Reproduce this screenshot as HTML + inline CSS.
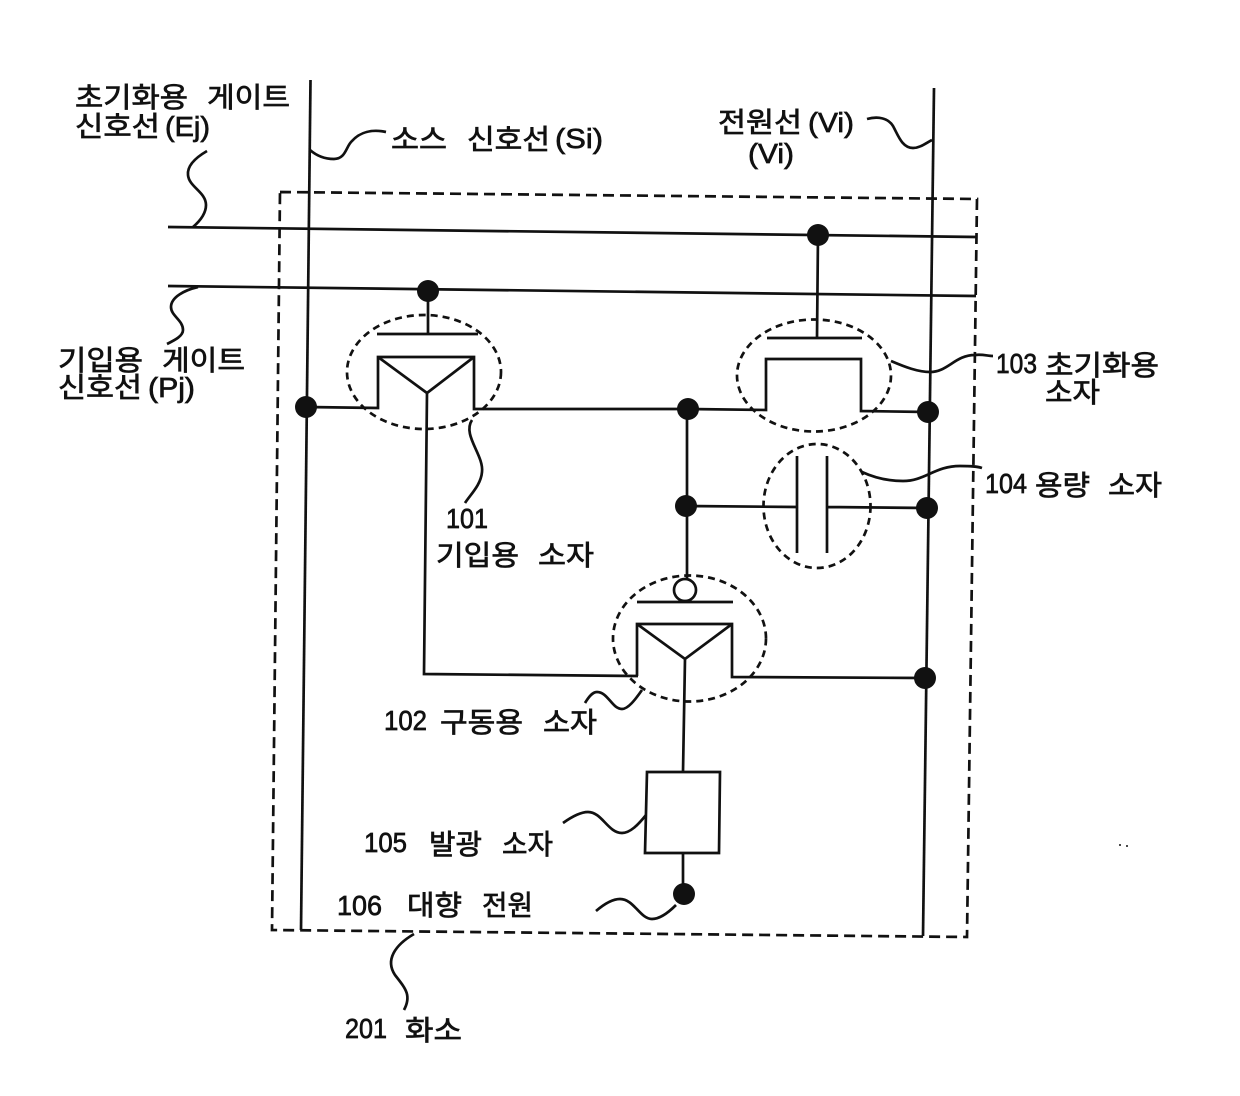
<!DOCTYPE html>
<html><head><meta charset="utf-8"><style>
html,body{margin:0;padding:0;background:#fff}
svg{display:block}
text{font-family:"Liberation Sans","Noto Sans CJK KR","NanumGothic",sans-serif;font-size:28px;fill:#111;stroke:#111;stroke-width:.7px}
</style></head><body>
<svg width="1240" height="1096" viewBox="0 0 1240 1096" xmlns="http://www.w3.org/2000/svg">
<g fill="none" stroke="#111" stroke-width="2.7">
<!-- main verticals -->
<path d="M310.5 80L301 930"/>
<path d="M934 88L923 936"/>
<!-- dashed pixel -->
<path d="M280 192L977 199L967 937L272 930Z" stroke-dasharray="11 6"/>
<!-- horizontal lines -->
<path d="M168 227L977 237"/>
<path d="M168 286L976 296"/>
<!-- T101 -->
<path d="M428 291V334M377 334H478"/>
<path d="M306 407L378 408V357H474V409L688 409"/>
<path d="M378 357L427 393L474 357M427 393L424 674L638 676"/>
<ellipse cx="424" cy="372" rx="77" ry="57" stroke-dasharray="7 5"/>
<!-- T103 -->
<path d="M818 235L817 338M767 338H862"/>
<path d="M688 409L766 410V359H861V411L928 412"/>
<ellipse cx="814" cy="375.5" rx="77" ry="56" stroke-dasharray="7 5"/>
<!-- cap -->
<path d="M687 409V579M686 506L797 507M797 456V553M827 456V553M827 507L927 508"/>
<ellipse cx="817" cy="506" rx="53.500" ry="62" stroke-dasharray="7 5"/>
<!-- T102 -->
<circle cx="685" cy="590" r="11"/>
<path d="M637 602H733"/>
<path d="M637 676V624H732V677L925 678"/>
<path d="M637 624L685 659L732 624M685 659L683 772"/>
<ellipse cx="689.500" cy="638.500" rx="76.500" ry="63" stroke-dasharray="7 5"/>
<!-- load -->
<path d="M647 772H720L719 853H645Z"/>
<path d="M683 853V894"/>
<!-- leaders -->
<path d="M310 150C318 157 326 159 334 159C346 159 346 146 352 141C360 132 372 129 386 132"/>
<path d="M867 119C878 116 888 118 893 126C898 135 902 148 913 148C920 148 926 143 932 140"/>
<path d="M207 151C195 158 187 166 188 175C189 187 206 192 206 205C206 214 200 221 193 227"/>
<path d="M198 287C185 290 171 297 171 307C171 316 183 320 183 330C183 336 175 340 167 344"/>
<path d="M891 361C905 367 918 372 930 372C948 372 955 355 975 355C982 354 988 356 993 356"/>
<path d="M862 472C875 478 890 481 903 481C925 481 935 466 960 466C968 466 976 466 982 468"/>
<path d="M472 420C462 435 484 455 482 472C481 485 470 495 465 503"/>
<path d="M642 690C635 700 628 709 622 709C612 709 608 692 597 692C592 692 588 698 585 703"/>
<path d="M646 815C638 825 630 833 622 833C608 833 602 812 588 812C580 812 570 818 563 823"/>
<path d="M676 905C668 913 660 919 652 919C640 919 634 899 620 899C612 899 603 905 596 911"/>
<path d="M414 934C395 945 385 960 395 975C405 988 412 995 404 1010"/>
</g>
<g fill="#111">
<circle cx="818" cy="235" r="11"/><circle cx="428" cy="291" r="11"/>
<circle cx="306" cy="407" r="11"/><circle cx="688" cy="409" r="11"/>
<circle cx="928" cy="412" r="11"/><circle cx="686" cy="506" r="11"/>
<circle cx="927" cy="508" r="11"/><circle cx="925" cy="678" r="11"/>
<circle cx="684" cy="894" r="11"/>
<circle cx="1120" cy="845" r="1"/><circle cx="1127" cy="846" r="1"/>
</g>
<g lengthAdjust="spacingAndGlyphs">
<text x="75" y="107" textLength="113" lengthAdjust="spacingAndGlyphs">초기화용</text>
<text x="207" y="107" textLength="83" lengthAdjust="spacingAndGlyphs">게이트</text>
<text x="75" y="136" textLength="85" lengthAdjust="spacingAndGlyphs">신호선</text>
<text x="165" y="136" textLength="45" lengthAdjust="spacingAndGlyphs">(Ej)</text>
<text x="391" y="149" textLength="56" lengthAdjust="spacingAndGlyphs">소스</text>
<text x="467" y="149" textLength="83" lengthAdjust="spacingAndGlyphs">신호선</text>
<text x="555" y="148" textLength="48" lengthAdjust="spacingAndGlyphs">(Si)</text>
<text x="718" y="132" textLength="84" lengthAdjust="spacingAndGlyphs">전원선</text>
<text x="808" y="132" textLength="46" lengthAdjust="spacingAndGlyphs">(Vi)</text>
<text x="748" y="163" textLength="46" lengthAdjust="spacingAndGlyphs">(Vi)</text>
<text x="58" y="370" textLength="85" lengthAdjust="spacingAndGlyphs">기입용</text>
<text x="162" y="370" textLength="83" lengthAdjust="spacingAndGlyphs">게이트</text>
<text x="58" y="397" textLength="84" lengthAdjust="spacingAndGlyphs">신호선</text>
<text x="148" y="397" textLength="47" lengthAdjust="spacingAndGlyphs">(Pj)</text>
<text x="996" y="373" textLength="41" lengthAdjust="spacingAndGlyphs">103</text>
<text x="1045" y="375" textLength="114" lengthAdjust="spacingAndGlyphs">초기화용</text>
<text x="1045" y="402" textLength="55" lengthAdjust="spacingAndGlyphs">소자</text>
<text x="985" y="493" textLength="42" lengthAdjust="spacingAndGlyphs">104</text>
<text x="1035" y="495" textLength="55" lengthAdjust="spacingAndGlyphs">용량</text>
<text x="1108" y="495" textLength="54" lengthAdjust="spacingAndGlyphs">소자</text>
<text x="446" y="528" textLength="42" lengthAdjust="spacingAndGlyphs">101</text>
<text x="436" y="565" textLength="83" lengthAdjust="spacingAndGlyphs">기입용</text>
<text x="538" y="565" textLength="56" lengthAdjust="spacingAndGlyphs">소자</text>
<text x="384" y="730" textLength="43" lengthAdjust="spacingAndGlyphs">102</text>
<text x="440" y="732" textLength="83" lengthAdjust="spacingAndGlyphs">구동용</text>
<text x="543" y="732" textLength="54" lengthAdjust="spacingAndGlyphs">소자</text>
<text x="364" y="852" textLength="43" lengthAdjust="spacingAndGlyphs">105</text>
<text x="429" y="854" textLength="53" lengthAdjust="spacingAndGlyphs">발광</text>
<text x="502" y="854" textLength="51" lengthAdjust="spacingAndGlyphs">소자</text>
<text x="337" y="915" textLength="45" lengthAdjust="spacingAndGlyphs">106</text>
<text x="407" y="915" textLength="55" lengthAdjust="spacingAndGlyphs">대향</text>
<text x="482" y="915" textLength="51" lengthAdjust="spacingAndGlyphs">전원</text>
<text x="345" y="1038" textLength="42" lengthAdjust="spacingAndGlyphs">201</text>
<text x="405" y="1040" textLength="57" lengthAdjust="spacingAndGlyphs">화소</text>
</g>
</svg>
</body></html>
